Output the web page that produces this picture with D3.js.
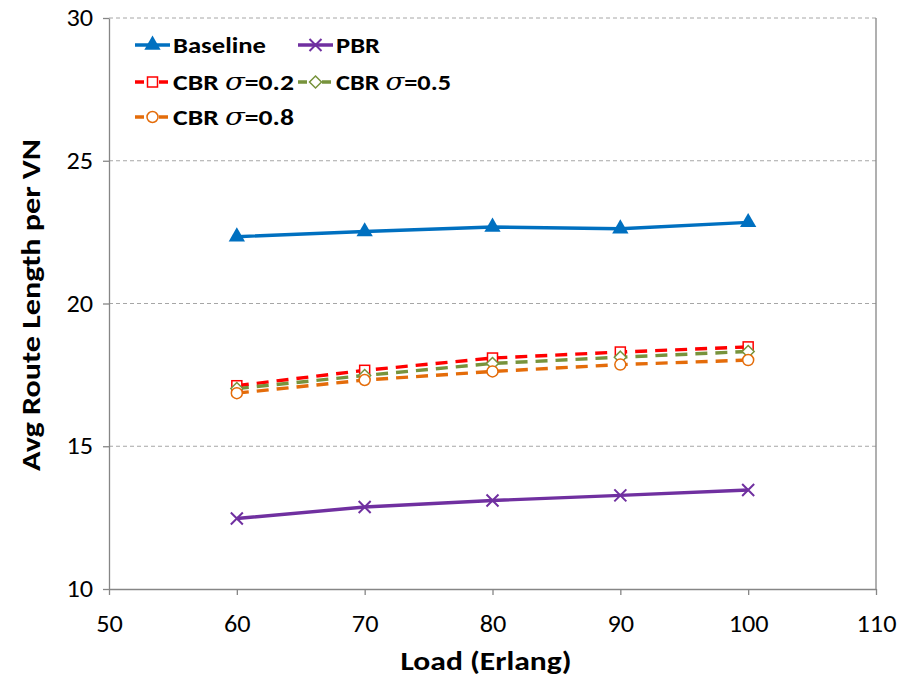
<!DOCTYPE html>
<html><head><meta charset="utf-8">
<script src="https://cdn.jsdelivr.net/npm/d3@7"></script>
<style>body{margin:0;background:#fff;} svg{display:block;}</style>
</head><body>
<svg id="chart" width="898" height="678"></svg>
<script>
const loads = [60, 70, 80, 90, 100];
const baseline = [22.34, 22.52, 22.68, 22.62, 22.84];
const pbr = [12.47, 12.87, 13.10, 13.28, 13.47];
const cbr02 = [17.12, 17.66, 18.09, 18.30, 18.48];
const cbr05 = [17.02, 17.48, 17.90, 18.12, 18.32];
const cbr08 = [16.86, 17.32, 17.62, 17.86, 18.02];
const xTicks = [50, 60, 70, 80, 90, 100, 110];
const yTicks = [10, 15, 20, 25, 30];
const seriesNames = ["Baseline", "PBR", "CBR σ=0.2", "CBR σ=0.5", "CBR σ=0.8"];

const series = [
  {name: seriesNames[0], values: baseline, color: "#0070C0", dash: null, marker: "triangle"},
  {name: seriesNames[1], values: pbr, color: "#7030A0", dash: null, marker: "x"},
  {name: seriesNames[2], values: cbr02, color: "#FF0000", dash: "12,8", marker: "square"},
  {name: seriesNames[3], values: cbr05, color: "#77933C", dash: "12,8", marker: "diamond"},
  {name: seriesNames[4], values: cbr08, color: "#E46C0A", dash: "12,8", marker: "circle"}
];

const svg = d3.select("#chart");
const L = 109, R = 876, T = 18, B = 589;
const x = d3.scaleLinear().domain([50, 110]).range([L, R]);
const y = d3.scaleLinear().domain([10, 30]).range([B, T]);
const font = "Calibri, Carlito, Lato, 'Open Sans', sans-serif";

// gridlines
svg.append("g").selectAll("line").data(yTicks.filter(d => d > 10)).join("line")
  .attr("x1", L).attr("x2", R).attr("y1", d => y(d)).attr("y2", d => y(d))
  .attr("stroke", "#A6A6A6").attr("stroke-width", 1).attr("stroke-dasharray", "4,3");

// right border
svg.append("line").attr("x1", R).attr("x2", R).attr("y1", T).attr("y2", B)
  .attr("stroke", "#868686").attr("stroke-width", 1.3);

// axes
const xAxis = svg.append("g").attr("transform", `translate(0,${B})`)
  .call(d3.axisBottom(x).tickValues(xTicks).tickSize(6).tickSizeOuter(0).tickPadding(28));
const yAxis = svg.append("g").attr("transform", `translate(${L},0)`)
  .call(d3.axisLeft(y).tickValues(yTicks).tickSize(6).tickSizeOuter(0).tickPadding(10));
[xAxis, yAxis].forEach(g => {
  g.select(".domain").attr("stroke", "#868686").attr("stroke-width", 1.3);
  g.selectAll(".tick line").attr("stroke", "#868686").attr("stroke-width", 1.3);
  g.selectAll(".tick text").attr("font-family", font).attr("font-size", 24).attr("fill", "#000")
    .attr("textLength", d => String(d).length * 13.3).attr("lengthAdjust", "spacingAndGlyphs");
});
xAxis.selectAll(".tick text").attr("dy", "0.36em");

// axis titles
svg.append("text").attr("x", 486).attr("y", 670).attr("text-anchor", "middle")
  .attr("font-family", font).attr("font-size", 27).attr("font-weight", "bold")
  .attr("textLength", 171).attr("lengthAdjust", "spacingAndGlyphs").text("Load (Erlang)");
svg.append("text").attr("transform", `translate(40,305) rotate(-90)`).attr("text-anchor", "middle")
  .attr("font-family", font).attr("font-size", 27).attr("font-weight", "bold")
  .attr("textLength", 332).attr("lengthAdjust", "spacingAndGlyphs").text("Avg Route Length per VN");

function drawMarker(g, type, color, cx, cy) {
  if (type === "triangle") {
    g.append("path").attr("d", d3.symbol(d3.symbolTriangle, 115)()).attr("transform", `translate(${cx},${cy})`)
      .attr("fill", color);
  } else if (type === "x") {
    const s = 6;
    g.append("path").attr("d", `M${cx - s},${cy - s}L${cx + s},${cy + s}M${cx - s},${cy + s}L${cx + s},${cy - s}`)
      .attr("stroke", color).attr("stroke-width", 2).attr("fill", "none");
  } else if (type === "square") {
    g.append("rect").attr("x", cx - 5).attr("y", cy - 5).attr("width", 10).attr("height", 10)
      .attr("fill", "#fff").attr("stroke", color).attr("stroke-width", 1.5);
  } else if (type === "diamond") {
    const s = 6;
    g.append("path").attr("d", `M${cx},${cy - s}L${cx + s},${cy}L${cx},${cy + s}L${cx - s},${cy}Z`)
      .attr("fill", "#fff").attr("stroke", color).attr("stroke-width", 1.5);
  } else if (type === "circle") {
    g.append("circle").attr("cx", cx).attr("cy", cy).attr("r", 5.5)
      .attr("fill", "#fff").attr("stroke", color).attr("stroke-width", 1.5);
  }
}

const line = d3.line().x((d, i) => x(loads[i])).y(d => y(d));
const plot = svg.append("g");
series.forEach(s => {
  plot.append("path").datum(s.values).attr("d", line).attr("fill", "none")
    .attr("stroke", s.color).attr("stroke-width", 3.4)
    .attr("stroke-dasharray", s.dash);
});
series.forEach(s => {
  const g = plot.append("g");
  s.values.forEach((v, i) => drawMarker(g, s.marker, s.color, x(loads[i]), y(v)));
});

// legend
const legendPos = [[135, 45], [298, 45], [135, 82], [298, 82], [135, 117]];
const legendTextW = [93, 44, 121, 115, 121];
series.forEach((s, i) => {
  const [lx, ly] = legendPos[i];
  const g = svg.append("g");
  g.append("line").attr("x1", lx).attr("x2", lx + 35).attr("y1", ly).attr("y2", ly)
    .attr("stroke", s.color).attr("stroke-width", 3.4).attr("stroke-dasharray", s.dash ? "9,3" : null);
  drawMarker(g, s.marker, s.color, lx + 17.5, ly);
  const t = g.append("text").attr("x", lx + 38).attr("y", ly).attr("dy", "0.36em")
    .attr("font-family", font).attr("font-size", 23).attr("font-weight", "bold")
    .attr("textLength", legendTextW[i]).attr("lengthAdjust", "spacingAndGlyphs");
  if (s.name.includes("σ")) {
    const parts = s.name.split("σ");
    t.append("tspan").text(parts[0]);
    t.append("tspan").attr("font-style", "italic").attr("font-weight", "normal")
      .attr("font-family", "'DejaVu Serif', serif").attr("font-size", 24).text("σ");
    t.append("tspan").text(parts[1]);
  } else {
    t.text(s.name);
  }
});
</script>
</body></html>
